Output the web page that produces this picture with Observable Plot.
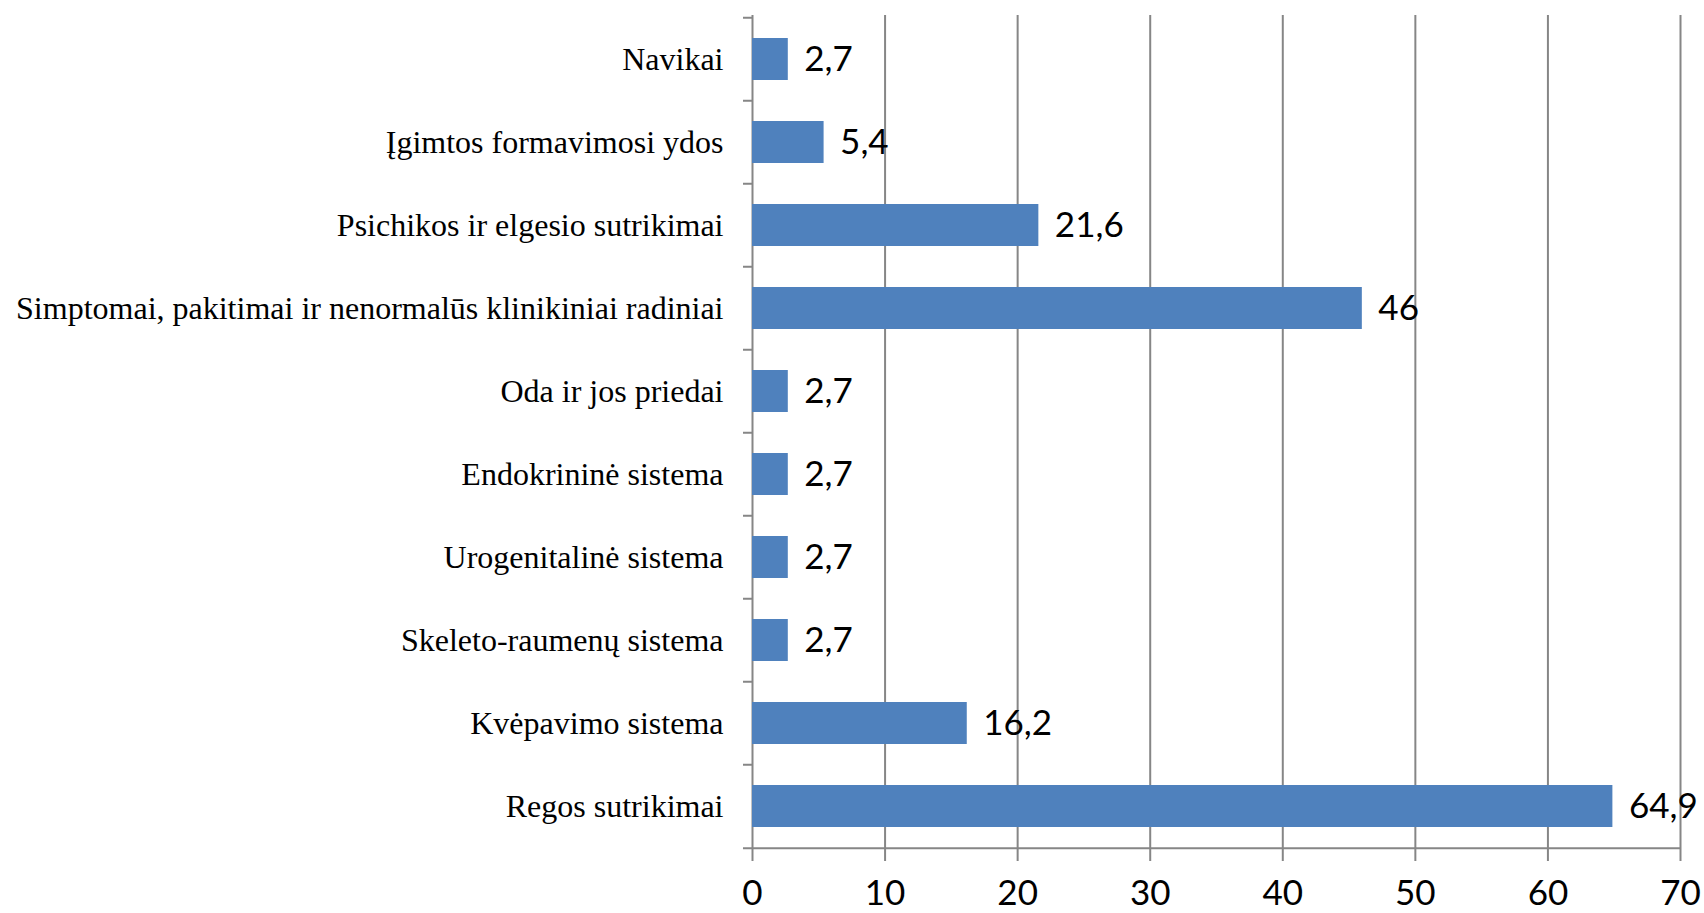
<!DOCTYPE html>
<html>
<head>
<meta charset="utf-8">
<script src="https://cdn.jsdelivr.net/npm/d3@7"></script>
<script src="https://cdn.jsdelivr.net/npm/@observablehq/plot@0.6"></script>
<style>
  body { margin: 0; background: white; }
  #chart svg { display: block; }
</style>
</head>
<body>
<div id="chart"></div>
<script>
const categories = [
  "Navikai",
  "Įgimtos formavimosi ydos",
  "Psichikos ir elgesio sutrikimai",
  "Simptomai, pakitimai ir nenormalūs klinikiniai radiniai",
  "Oda ir jos priedai",
  "Endokrininė sistema",
  "Urogenitalinė sistema",
  "Skeleto-raumenų sistema",
  "Kvėpavimo sistema",
  "Regos sutrikimai"
];
const values = [2.7, 5.4, 21.6, 46, 2.7, 2.7, 2.7, 2.7, 16.2, 64.9];
const xTicks = [0, 10, 20, 30, 40, 50, 60, 70];

const data = categories.map((c, i) => ({category: c, value: values[i]}));
const gridColor = "#868686";
const halfStep = 41.75;

const chart = Plot.plot({
  width: 1704,
  height: 913,
  marginLeft: 752,
  marginRight: 24,
  marginTop: 15,
  marginBottom: 63,
  style: {background: "white", color: "black", overflow: "visible"},
  x: {domain: [0, 70], label: null},
  y: {domain: categories, paddingInner: 0.5, paddingOuter: 0.25, label: null},
  marks: [
    Plot.ruleX(xTicks, {stroke: gridColor, strokeWidth: 2}),
    Plot.barX(data, {x: "value", y: "category", fill: "#4F81BD"}),
    Plot.ruleY(categories, {y: d => d, x1: -0.68, x2: 0, dy: -halfStep, stroke: gridColor, strokeWidth: 2}),
    Plot.ruleY([categories[categories.length - 1]], {y: d => d, x1: -0.68, x2: 70, dy: halfStep, stroke: gridColor, strokeWidth: 2}),
    Plot.axisX({ticks: xTicks, label: null, tickSize: 11, tickPadding: 19, fontSize: 35, fontFamily: "Lato", stroke: gridColor, strokeWidth: 2, tickFormat: d => String(d)}),
    Plot.axisY({label: null, tickSize: 0, tickPadding: 29, fontSize: 32, fontFamily: "Liberation Serif"}),
    Plot.text(data, {x: "value", y: "category", text: d => String(d.value).replace(".", ","), dx: 16, textAnchor: "start", fontSize: 35, fontFamily: "Lato", fill: "black"})
  ]
});
document.getElementById("chart").appendChild(chart);
</script>
</body>
</html>
